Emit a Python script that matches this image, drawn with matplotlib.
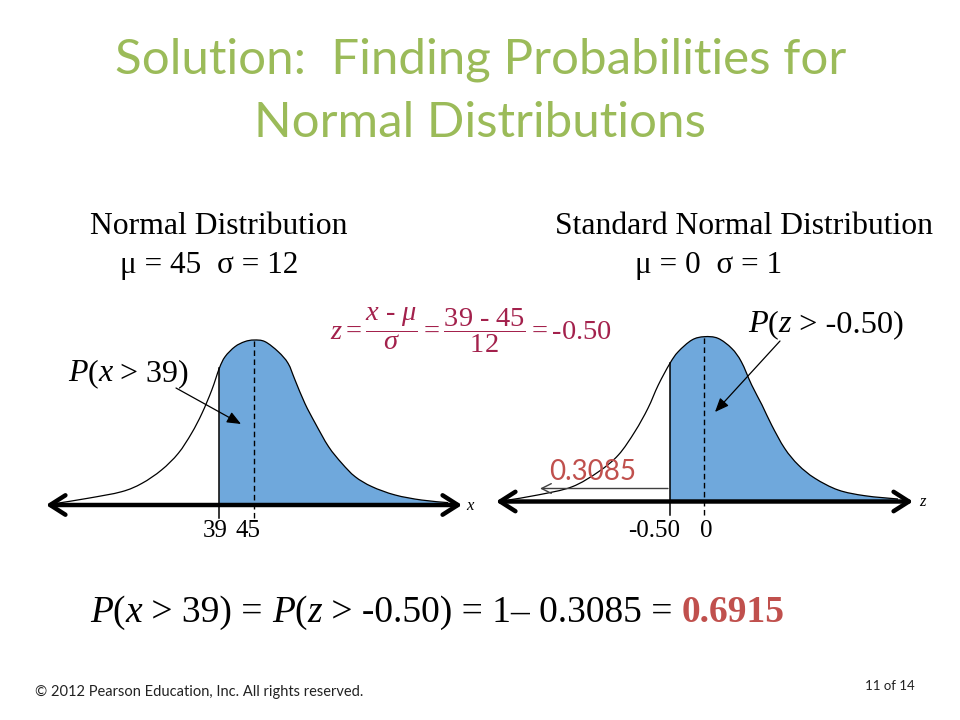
import matplotlib
matplotlib.use("Agg")
import matplotlib.pyplot as plt
import matplotlib.transforms as mtransforms
from matplotlib.path import Path
from matplotlib.patches import PathPatch
import numpy as np

# ---------------- data ----------------
title_lines = ["Solution:  Finding Probabilities for", "Normal Distributions"]

left_heading = "Normal Distribution"
left_params = "\u03bc = 45  \u03c3 = 12"
right_heading = "Standard Normal Distribution"
right_params = "\u03bc = 0  \u03c3 = 1"

# left curve (x scale, relative height)
left_x = [10.9, 16.3, 22.1, 25.6, 29.0, 31.9, 34.2, 36.0, 37.7, 39.0, 40.0, 41.7, 43.4,
          45.0, 46.9, 49.2, 50.9, 52.1, 53.8, 55.6, 57.9, 60.2, 62.5, 65.4, 69.4, 74.0, 78.6]
left_h = [0.0, 0.031, 0.071, 0.122, 0.204, 0.306, 0.429, 0.551, 0.694, 0.827, 0.898, 0.959, 0.99,
          1.0, 0.99, 0.928, 0.857, 0.755, 0.612, 0.49, 0.347, 0.245, 0.163, 0.102, 0.051, 0.02, 0.004]
left_cut = 39.0
left_mean = 45.0
left_ticks = [39, 45]
left_tick_labels = ["39", "45"]

# right curve (z scale, relative height)
right_z = [-2.85, -2.42, -1.93, -1.54, -1.25, -1.01, -0.82, -0.67, -0.50, -0.38, -0.18,
           0.0, 0.20, 0.40, 0.54, 0.69, 0.84, 0.98, 1.17, 1.37, 1.61, 1.95, 2.34, 2.82]
right_h = [0.0, 0.031, 0.08, 0.173, 0.276, 0.419, 0.562, 0.704, 0.837, 0.908, 0.98,
           1.0, 0.99, 0.928, 0.846, 0.704, 0.582, 0.459, 0.316, 0.214, 0.133, 0.061, 0.026, 0.006]
right_cut = -0.50
right_mean = 0.0
right_ticks = [-0.50, 0.0]
right_tick_labels = ["-0.50", "0"]

left_prob_label = ("P", "x", " > 39)")
right_prob_label = ("P", "z", " > -0.50)")
tail_value = "0.3085"
answer_value = "0.6915"
footer_left = "\u00a9 2012 Pearson Education, Inc. All rights reserved."
footer_right = "11 of 14"

# ---------------- style ----------------
W, H = 960, 720
GREEN = "#9BBB59"
BLUE = "#6FA8DC"
RED = "#C0504D"
MAROON = "#A3214C"
SERIF = "Liberation Serif"
SANS = "Lato"

plt.rcParams["mathtext.fontset"] = "custom"
plt.rcParams["mathtext.rm"] = SERIF
plt.rcParams["mathtext.it"] = SERIF + ":italic"
plt.rcParams["mathtext.bf"] = SERIF + ":bold"

fig = plt.figure(figsize=(9.6, 7.2), dpi=100)
fig.patch.set_facecolor("white")


def fx(px):
    return px / W


def fy(py):
    return 1 - py / H


# ---------------- title ----------------
fig.text(fx(481), fy(60), title_lines[0], ha="center", va="center",
         fontsize=35.5, color=GREEN, family=SANS)
fig.text(fx(480), fy(123), title_lines[1], ha="center", va="center",
         fontsize=35.5, color=GREEN, family=SANS)

# ---------------- headings ----------------
fig.text(fx(90), fy(226), left_heading, ha="left", va="center", fontsize=22.8, family=SERIF)
fig.text(fx(120), fy(265), left_params, ha="left", va="center", fontsize=22.5, family=SERIF)
fig.text(fx(555), fy(226), right_heading, ha="left", va="center", fontsize=22.8, family=SERIF)
fig.text(fx(635), fy(265), right_params, ha="left", va="center", fontsize=22.5, family=SERIF)

# ---------------- formula ----------------
fig.text(fx(471), fy(330),
         r"$z = \dfrac{x\ \text{-}\ \mu}{\sigma} = \dfrac{39\ \text{-}\ 45}{12} = \text{-}0.50$",
         ha="center", va="center", fontsize=20.5, color=MAROON)


# ---------------- panels ----------------
def make_panel(box, x_ref_px, x_ref, px_per_unit, base_px, px_per_h):
    l, r, t, b = box
    ax = fig.add_axes([fx(l), fy(b), (r - l) / W, (b - t) / H])
    xo = lambda p: x_ref + (p - x_ref_px) / px_per_unit
    ho = lambda p: (base_px - p) / px_per_h
    ax.set_xlim(xo(l), xo(r))
    ax.set_ylim(ho(b), ho(t))
    ax.axis("off")
    return ax, xo, ho


def bezier_segments(xs, hs):
    """Catmull-Rom style cubic Bezier segments through the given points."""
    P = np.column_stack([xs, hs]).astype(float)
    n = len(P)
    segs = []
    for i in range(n - 1):
        p0 = P[max(i - 1, 0)]
        p1 = P[i]
        p2 = P[i + 1]
        p3 = P[min(i + 2, n - 1)]
        c1 = p1 + (p2 - p0) / 6.0
        c2 = p2 - (p3 - p1) / 6.0
        segs.append((p1, c1, c2, p2))
    return segs


def segs_to_path(segs, close_to_base=False):
    verts = [segs[0][0]]
    codes = [Path.MOVETO]
    for p1, c1, c2, p2 in segs:
        verts += [c1, c2, p2]
        codes += [Path.CURVE4] * 3
    if close_to_base:
        verts += [(segs[-1][3][0], 0.0), (segs[0][0][0], 0.0), segs[0][0]]
        codes += [Path.LINETO, Path.LINETO, Path.CLOSEPOLY]
    return Path(verts, codes)


def draw_curve(ax, xs, hs, cut, mean, ticks, labels, xo, ho, axis_px, axis_y_px, tick_bottom_px,
               letter, letter_px, label_offsets):
    xs = np.asarray(xs)
    hs = np.asarray(hs)
    segs = bezier_segments(xs, hs)
    icut = int(np.argmin(np.abs(xs - cut)))
    fill_path = segs_to_path(segs[icut:], close_to_base=True)
    ax.add_patch(PathPatch(fill_path, facecolor=BLUE, edgecolor="none", lw=0, zorder=1))
    ax.add_patch(PathPatch(segs_to_path(segs), facecolor="none", edgecolor="black",
                           lw=0.9, zorder=3))
    hcut = hs[icut]
    hmean = hs[np.argmin(np.abs(xs - mean))]
    yb = ho(tick_bottom_px)
    ax.plot([cut, cut], [yb, hcut], color="black", lw=1.1, zorder=3)
    ax.plot([mean, mean], [yb, hmean], color="black", lw=1.0, ls=(0, (4, 2.5)), zorder=3)
    ya = ho(axis_y_px)
    ax.annotate("", xy=(xo(axis_px[0]), ya), xytext=(xo(axis_px[1]), ya),
                arrowprops=dict(arrowstyle="<->, head_length=0.55, head_width=0.35",
                                lw=3.2, color="black", shrinkA=0, shrinkB=0,
                                mutation_scale=20), zorder=4)
    for t, lab, off in zip(ticks, labels, label_offsets):
        tr = mtransforms.offset_copy(ax.transData, fig=fig, x=off, y=0, units="dots")
        ax.text(t, ho(531), lab, transform=tr, ha="center", va="center",
                fontsize=18, family=SERIF)
    ax.text(xo(letter_px[0]), ho(letter_px[1]), letter, ha="center", va="center",
            fontsize=12, family=SERIF, style="italic")


axL, xoL, hoL = make_panel((20, 490, 300, 560), 254, 45.0, 5.78, 503.3, 163.3)
draw_curve(axL, left_x, left_h, left_cut, left_mean, left_ticks, left_tick_labels,
           xoL, hoL, (46, 462), 505, 518, "x", (470, 506), (-4, -6))

axR, xoR, hoR = make_panel((480, 940, 300, 560), 704.3, 0.0, 68.7, 500, 163.3)
draw_curve(axR, right_z, right_h, right_cut, right_mean, right_ticks, right_tick_labels,
           xoR, hoR, (496, 913), 501.5, 515, "z", (922, 502), (-16, 2))

# tail probability arrow and value
axR.annotate("", xy=(xoR(540), hoR(488.5)), xytext=(xoR(668), hoR(488.5)),
             arrowprops=dict(arrowstyle="->, head_length=0.5, head_width=0.25",
                             lw=1.0, color="#404040", shrinkA=0, shrinkB=0,
                             mutation_scale=14), zorder=5)
fig.text(fx(593), fy(472), tail_value, ha="center", va="center", fontsize=20,
         color=RED, family=SANS)

renderer = fig.canvas.get_renderer()


def rich(x_px, y_px, pieces, size):
    x = x_px
    for s, style, weight, color in pieces:
        t = fig.text(fx(x), fy(y_px), s, ha="left", va="baseline", fontsize=size,
                     family=SERIF, style=style, weight=weight, color=color)
        bb = t.get_window_extent(renderer)
        x += bb.width
    return x


# probability labels with arrows
rich(68, 381, [(left_prob_label[0], "italic", "normal", "black"),
               ("(", "normal", "normal", "black"),
               (left_prob_label[1], "italic", "normal", "black"),
               (left_prob_label[2], "normal", "normal", "black")], 23)
axL.annotate("", xy=(xoL(241), hoL(424)), xytext=(xoL(176), hoL(388)),
             arrowprops=dict(arrowstyle="-|>, head_length=0.6, head_width=0.25",
                             lw=0.9, color="black", shrinkA=0, shrinkB=0,
                             mutation_scale=14), zorder=5)

rich(748, 332, [(right_prob_label[0], "italic", "normal", "black"),
                ("(", "normal", "normal", "black"),
                (right_prob_label[1], "italic", "normal", "black"),
                (right_prob_label[2], "normal", "normal", "black")], 23.3)
axR.annotate("", xy=(xoR(715), hoR(412)), xytext=(xoR(780), hoR(341)),
             arrowprops=dict(arrowstyle="-|>, head_length=0.6, head_width=0.25",
                             lw=0.9, color="black", shrinkA=0, shrinkB=0,
                             mutation_scale=14), zorder=5)

# ---------------- bottom equation ----------------
rich(90, 622, [("P", "italic", "normal", "black"),
               ("(", "normal", "normal", "black"),
               ("x", "italic", "normal", "black"),
               (" > 39) = ", "normal", "normal", "black"),
               ("P", "italic", "normal", "black"),
               ("(", "normal", "normal", "black"),
               ("z", "italic", "normal", "black"),
               (" > -0.50) = 1\u2013 0.3085 = ", "normal", "normal", "black"),
               (answer_value, "normal", "bold", RED)], 27)

# ---------------- footer ----------------
fig.text(fx(35), fy(692), footer_left, ha="left", va="center", fontsize=10.5,
         family=SANS, color="#222222")
fig.text(fx(915), fy(686), footer_right, ha="right", va="center", fontsize=9.5,
         family=SANS, color="#222222")

fig.savefig("out.png", dpi=100, facecolor="white")
